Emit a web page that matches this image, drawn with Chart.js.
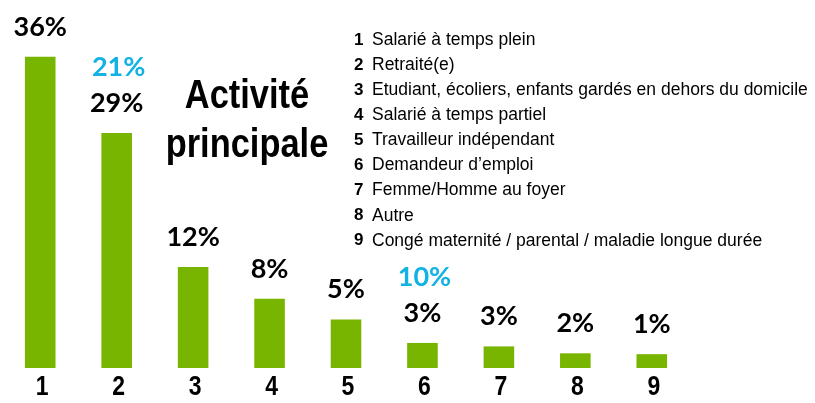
<!DOCTYPE html>
<html>
<head>
<meta charset="utf-8">
<script src="https://cdn.jsdelivr.net/npm/chart.js@4/dist/chart.umd.min.js"></script>
<style>
  html, body { margin: 0; padding: 0; background: #fff; }
  #wrap { width: 815px; height: 403px; position: relative; }
</style>
</head>
<body>
<div id="wrap"><canvas id="activityChart"></canvas></div>
<script>
// Data
const categories = ['1', '2', '3', '4', '5', '6', '7', '8', '9'];
const barValues = [36, 27.2, 11.7, 8, 5.6, 2.9, 2.5, 1.7, 1.6];
const valueLabels = ['36%', '29%', '12%', '8%', '5%', '3%', '3%', '2%', '1%'];
const compareLabels = [null, '21%', null, null, null, '10%', null, null, null];
const titleLines = ['Activité', 'principale'];
const legendItems = [
    'Salarié à temps plein',
    'Retraité(e)',
    'Etudiant, écoliers, enfants gardés en dehors du domicile',
    'Salarié à temps partiel',
    'Travailleur indépendant',
    'Demandeur d\u2019emploi',
    'Femme/Homme au foyer',
    'Autre',
    'Congé maternité / parental / maladie longue durée'
];

const green = '#78B500';
const blue = '#12B2E4';
const sans = '"Liberation Sans", Arial, sans-serif';

// draw text squeezed horizontally (no narrow font installed)
function narrowText(ctx, text, x, y, squeeze) {
    ctx.save();
    ctx.translate(x, y);
    ctx.scale(squeeze, 1);
    ctx.fillText(text, 0, 0);
    ctx.restore();
}

// Labels above bars + category numbers under them
const barLabels = {
    id: 'barLabels',
    afterDatasetsDraw(chart) {
        const ctx = chart.ctx;
        const bars = chart.getDatasetMeta(0).data;
        const xScale = chart.scales.x;
        ctx.save();
        ctx.textAlign = 'center';
        ctx.textBaseline = 'middle';
        ctx.font = 'bold 27px Lato, sans-serif';
        bars.forEach((bar, i) => {
            ctx.fillStyle = '#000';
            ctx.fillText(valueLabels[i], bar.x, bar.y - 30);
            if (compareLabels[i]) {
                ctx.fillStyle = blue;
                ctx.fillText(compareLabels[i], bar.x + 2, bar.y - 66);
            }
        });
        ctx.fillStyle = '#000';
        ctx.font = 'bold 28px ' + sans;
        categories.forEach((c, i) => {
            narrowText(ctx, c, xScale.getPixelForValue(i) + 2, xScale.top + 19, 0.82);
        });
        ctx.restore();
    }
};

// Title and numbered legend
const sideText = {
    id: 'sideText',
    afterDraw(chart) {
        const ctx = chart.ctx;
        ctx.save();
        ctx.fillStyle = '#000';
        ctx.textAlign = 'center';
        ctx.textBaseline = 'alphabetic';
        ctx.font = 'bold 41px ' + sans;
        narrowText(ctx, titleLines[0], 247, 108, 0.84);
        narrowText(ctx, titleLines[1], 247, 157, 0.84);

        ctx.textAlign = 'left';
        ctx.textBaseline = 'middle';
        legendItems.forEach((item, i) => {
            const y = 40 + i * 25.1;
            ctx.font = 'bold 17px ' + sans;
            ctx.fillText(String(i + 1), 354, y);
            ctx.font = '17.5px ' + sans;
            ctx.fillText(item, 372, y);
        });
        ctx.restore();
    }
};

const ctx = document.getElementById('activityChart').getContext('2d');
const activityChart = new Chart(ctx, {
    type: 'bar',
    data: {
        labels: categories,
        datasets: [{
            data: barValues,
            backgroundColor: green,
            borderWidth: 0,
            barPercentage: 0.4,
            categoryPercentage: 1
        }]
    },
    options: {
        responsive: true,
        maintainAspectRatio: false,
        animation: false,
        layout: {
            padding: { left: 2, right: 125, top: 5, bottom: 0 }
        },
        scales: {
            x: {
                grid: { display: false },
                border: { display: false },
                ticks: { display: false },
                afterFit(scale) {
                    scale.height = 35;
                }
            },
            y: {
                display: false,
                min: 0,
                max: 42
            }
        },
        plugins: {
            legend: { display: false },
            tooltip: { enabled: false }
        }
    },
    plugins: [barLabels, sideText]
});
</script>
</body>
</html>
